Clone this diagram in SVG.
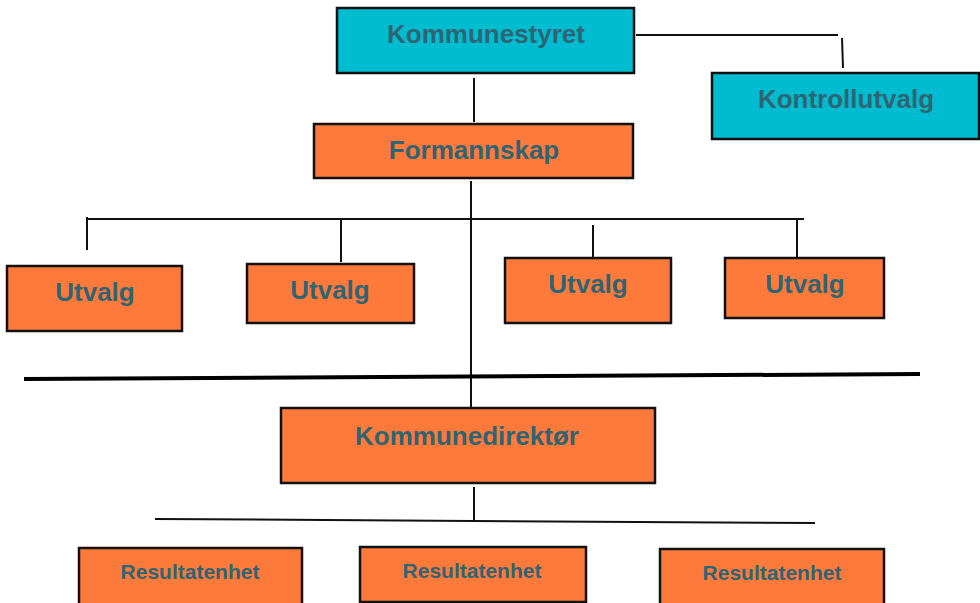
<svg xmlns="http://www.w3.org/2000/svg" width="980" height="603" viewBox="0 0 980 603">
<style>
.cy{fill:#00BCD0;stroke:#111;stroke-width:2.5}
.or{fill:#FE7A3B;stroke:#111;stroke-width:2.5}
.t{font-family:"Liberation Sans",Arial,sans-serif;font-weight:bold;fill:#2F6473;text-anchor:middle}
.l{font-size:26px}
.s{font-size:21px}
.c{stroke:#111;stroke-width:2;fill:none}
</style>
<rect width="980" height="603" fill="#fff"/>
<g id="connectors">
<line class="c" x1="636" y1="35" x2="838" y2="35"/>
<line class="c" x1="842" y1="38" x2="843" y2="68"/>
<line class="c" x1="474" y1="78" x2="474" y2="122"/>
<line class="c" x1="471" y1="181" x2="471" y2="408"/>
<line class="c" x1="87" y1="219" x2="804" y2="219"/>
<line class="c" x1="87" y1="217" x2="87" y2="250"/>
<line class="c" x1="341" y1="219" x2="341" y2="262"/>
<line class="c" x1="593" y1="225" x2="593" y2="266"/>
<line class="c" x1="797" y1="219" x2="797" y2="262"/>
<line x1="24" y1="379" x2="920" y2="374" stroke="#000" stroke-width="4"/>
<line class="c" x1="474" y1="487" x2="474" y2="522"/>
<line class="c" x1="155" y1="519" x2="815" y2="523"/>
</g>
<g id="kommunestyret">
<rect class="cy" x="337" y="8" width="297" height="65"/>
<text class="t l" x="486" y="43">Kommunestyret</text>
</g>
<g id="kontrollutvalg">
<rect class="cy" x="712" y="73" width="267" height="66"/>
<text class="t l" x="846" y="108">Kontrollutvalg</text>
</g>
<g id="formannskap">
<rect class="or" x="314" y="124" width="319" height="54"/>
<text class="t l" x="474" y="159">Formannskap</text>
</g>
<g id="utvalg1">
<rect class="or" x="7" y="266" width="175" height="65"/>
<text class="t l" x="95" y="301">Utvalg</text>
</g>
<g id="utvalg2">
<rect class="or" x="247" y="264" width="167" height="59"/>
<text class="t l" x="330" y="299">Utvalg</text>
</g>
<g id="utvalg3">
<rect class="or" x="505" y="258" width="166" height="65"/>
<text class="t l" x="588" y="293">Utvalg</text>
</g>
<g id="utvalg4">
<rect class="or" x="725" y="258" width="159" height="60"/>
<text class="t l" x="805" y="293">Utvalg</text>
</g>
<g id="kommunedirektor">
<rect class="or" x="281" y="408" width="374" height="75"/>
<text class="t l" x="467" y="445">Kommunedirektør</text>
</g>
<g id="resultatenhet1">
<rect class="or" x="79" y="548" width="223" height="60"/>
<text class="t s" x="190" y="579">Resultatenhet</text>
</g>
<g id="resultatenhet2">
<rect class="or" x="360" y="547" width="226" height="55"/>
<text class="t s" x="472" y="578">Resultatenhet</text>
</g>
<g id="resultatenhet3">
<rect class="or" x="660" y="549" width="224" height="60"/>
<text class="t s" x="772" y="580">Resultatenhet</text>
</g>
</svg>
